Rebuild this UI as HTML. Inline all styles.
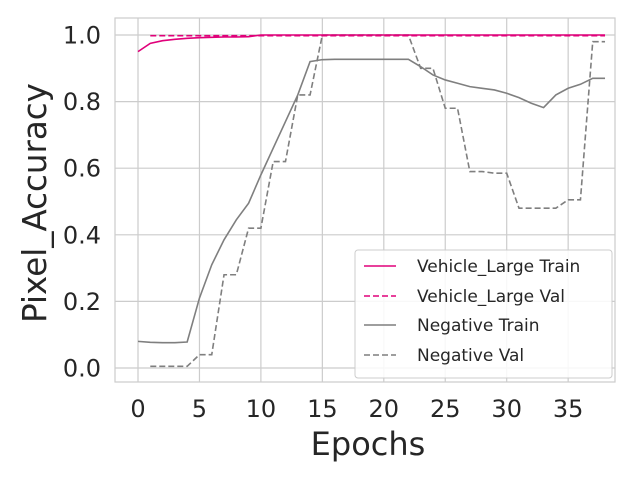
<!DOCTYPE html>
<html><head><meta charset="utf-8"><style>
body{margin:0;background:#fff}
svg text{font-family:"DejaVu Sans","Liberation Sans",sans-serif;fill:#262626}
</style></head><body>
<svg id="chart" width="640" height="480" xmlns="http://www.w3.org/2000/svg">
<rect x="0" y="0" width="640" height="480" fill="#fff"/>
<g id="grid"></g>
<rect x="115" y="18" width="500" height="364" fill="none" stroke="#cccccc" stroke-width="1.2"/>
<g id="series"></g>
<g id="ticks"></g>
<text x="368" y="455" font-size="32" text-anchor="middle">Epochs</text>
<text x="0" y="0" font-size="32.5" text-anchor="middle" transform="translate(46,203) rotate(-90)">Pixel_Accuracy</text>
<g>
<rect x="355" y="250" width="257" height="128" rx="3" fill="#fff" fill-opacity="0.85" stroke="#cccccc"/>
<line x1="364" y1="266" x2="396" y2="266" stroke="#e0007a" stroke-width="1.6"/>
<text x="417" y="272" font-size="17">Vehicle_Large Train</text>
<line x1="364" y1="296" x2="396" y2="296" stroke="#e0007a" stroke-width="1.6" stroke-dasharray="6,3"/>
<text x="417" y="302" font-size="17">Vehicle_Large Val</text>
<line x1="364" y1="325" x2="396" y2="325" stroke="#7f7f7f" stroke-width="1.6"/>
<text x="417" y="331" font-size="17">Negative Train</text>
<line x1="364" y1="355" x2="396" y2="355" stroke="#7f7f7f" stroke-width="1.6" stroke-dasharray="6,3"/>
<text x="417" y="361" font-size="17">Negative Val</text>
</g>
</svg>
<script>
const xTicks=[0,5,10,15,20,25,30,35];
const yTicks=[0.0,0.2,0.4,0.6,0.8,1.0];
const vehicleTrain=[0.95,0.975,0.983,0.987,0.99,0.992,0.993,0.994,0.994,0.995,1,1,1,1,1,1,1,1,1,1,1,1,1,1,1,1,1,1,1,1,1,1,1,1,1,1,1,1,1];
const vehicleValEpochs=[1,38];
const vehicleVal=[0.998,0.998];
const negTrain=[0.08,0.077,0.076,0.076,0.078,0.21,0.31,0.385,0.445,0.495,0.58,0.66,0.74,0.82,0.92,0.926,0.927,0.927,0.927,0.927,0.927,0.927,0.927,0.905,0.88,0.865,0.855,0.845,0.84,0.835,0.825,0.812,0.795,0.782,0.82,0.84,0.852,0.87,0.87];
const negVal=[0.005,0.005,0.005,0.005,0.04,0.04,0.28,0.28,0.42,0.42,0.62,0.62,0.82,0.82,1,1,1,1,1,1,1,1,0.9,0.9,0.78,0.78,0.59,0.59,0.585,0.585,0.48,0.48,0.48,0.48,0.505,0.505,0.98,0.98];
const NS='http://www.w3.org/2000/svg';
const X=v=>138+v*12.29, Y=v=>368-v*333;
const grid=document.getElementById('grid'),ticks=document.getElementById('ticks'),ser=document.getElementById('series');
function mk(t,a,p){const e=document.createElementNS(NS,t);for(const k in a)e.setAttribute(k,a[k]);p.appendChild(e);return e;}
xTicks.forEach(t=>{
 const l=mk('line',{x1:X(t),x2:X(t),y1:18,y2:382,stroke:'#cccccc','stroke-width':1.2},grid);
 
 
 const tx=mk('text',{x:X(t),y:417,'font-size':24,'text-anchor':'middle'},ticks);tx.textContent=t;
 
 
});
yTicks.forEach(t=>{
 const l=mk('line',{x1:115,x2:615,y1:Y(t),y2:Y(t),stroke:'#cccccc','stroke-width':1.2},grid);
 
 
 const tx=mk('text',{x:101,y:Y(t)+8.5,'font-size':24,'text-anchor':'end'},ticks);tx.textContent=t.toFixed(1);
 
 
});
function line(xs,ys,color,dash,name){
 const p=mk('polyline',{points:ys.map((v,i)=>X(xs[i])+','+Y(v)).join(' '),fill:'none',stroke:color,'stroke-width':1.6},ser);
 if(dash)p.setAttribute('stroke-dasharray','6,3');
 
 
}
line(negTrain.map((_,i)=>i),negTrain,'#7f7f7f',false,'negative-train-line');
line(negVal.map((_,i)=>i+1),negVal,'#7f7f7f',true,'negative-val-line');
line(vehicleValEpochs,vehicleVal,'#e0007a',true,'vehicle-val-line');
line(vehicleTrain.map((_,i)=>i),vehicleTrain,'#e0007a',false,'vehicle-train-line');
</script>
</body></html>
